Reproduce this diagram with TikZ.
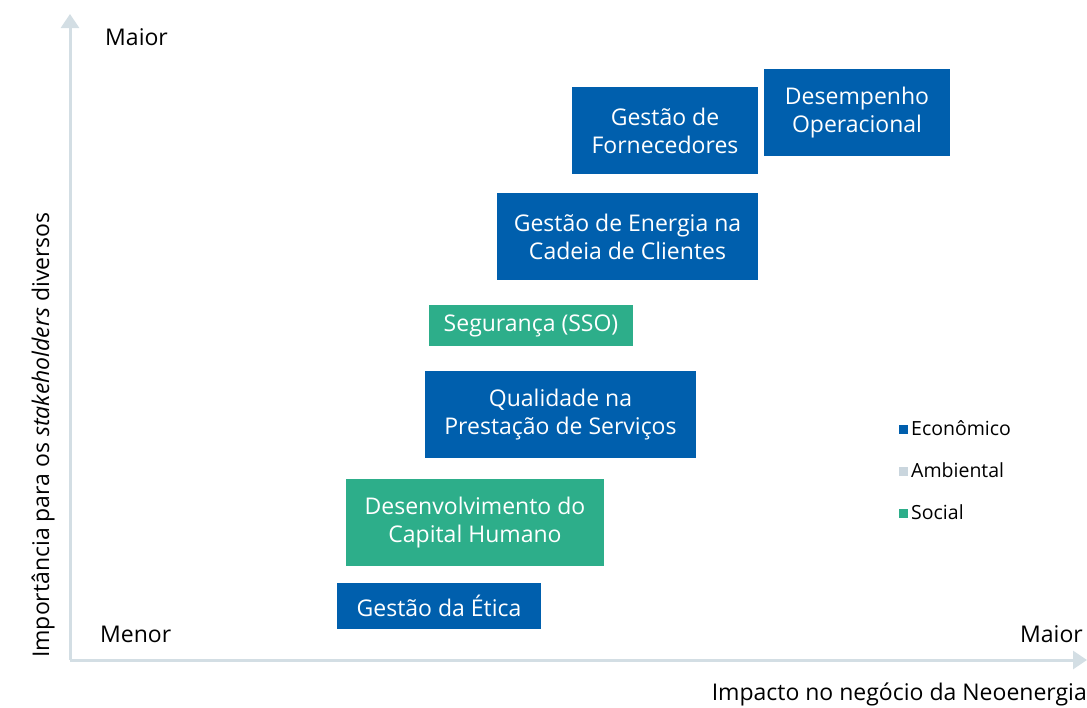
\documentclass[tikz,border=0pt]{standalone}
\usepackage{fontspec}
\setmainfont{Open Sans}
\usetikzlibrary{arrows.meta}
\definecolor{econ}{HTML}{005FAD}
\definecolor{soc}{HTML}{2DAE8A}
\definecolor{amb}{HTML}{CAD6DE}
\definecolor{axis}{HTML}{D3DEE4}
\tikzset{
  box/.style={fill=#1, text=white, inner sep=0pt, align=center, font=\fontsize{23}{28}\selectfont},
  lbl/.style={text=black, inner sep=0pt, font=\fontsize{23}{26}\selectfont},
  leg/.style={text=black, inner sep=0pt, anchor=west, font=\fontsize{19.5}{22}\selectfont},
  sq/.style={fill=#1, minimum size=9pt, inner sep=0pt},
  ax/.style={draw=axis, line width=3pt, -{Triangle[length=14pt,width=18pt]}}
}
\begin{document}
\begin{tikzpicture}[x=1pt,y=-1pt]
\useasboundingbox (0,0) rectangle (1087,707);
% boxes
\node[box=econ, minimum width=186pt, minimum height=87pt] (forn) at (665,130.5) {Gestão de\\Fornecedores};
\node[box=econ, minimum width=186pt, minimum height=87pt] (dese) at (857,112.5) {Desempenho\\Operacional};
\node[box=econ, minimum width=261pt, minimum height=87pt] (ener) at (627.5,236.5) {Gestão de Energia na\\Cadeia de Clientes};
\node[box=soc, minimum width=204pt, minimum height=41pt] (segu) at (531,325.5) {Segurança (SSO)};
\node[box=econ, minimum width=271pt, minimum height=87pt] (qual) at (560.5,414.5) {Qualidade na\\Prestação de Serviços};
\node[box=soc, minimum width=258pt, minimum height=87pt] (desc) at (475,522.5) {Desenvolvimento do\\Capital Humano};
\node[box=econ, minimum width=204pt, minimum height=46pt] (etic) at (439,606) {Gestão da Ética};
% axes
\coordinate (o) at (70,660);
\coordinate (ytop) at (70,14);
\coordinate (xend) at (1087,660);
\draw[ax] (o) -- (ytop);
\draw[ax] (o) -- (xend);
% axis labels
\node[lbl, anchor=west] (ymax) at (105,37) {Maior};
\node[lbl, anchor=west] (xmin) at (100,634) {Menor};
\node[lbl, anchor=east] (xmax) at (1083,634) {Maior};
\node[lbl, anchor=east] (xlab) at (1087,694) {Impacto no negócio da Neoenergia};
\node[lbl, rotate=90] (ylab) at (43,435) {Importância para os \textit{stakeholders} diversos};
% legend
\node[sq=econ] (s1) at (903.5,429.5) {};
\node[leg] (l1) at (911,428) {Econômico};
\node[sq=amb] (s2) at (903.5,471.5) {};
\node[leg] (l2) at (911,470) {Ambiental};
\node[sq=soc] (s3) at (903.5,513.5) {};
\node[leg] (l3) at (911,512) {Social};
\end{tikzpicture}
\end{document}
